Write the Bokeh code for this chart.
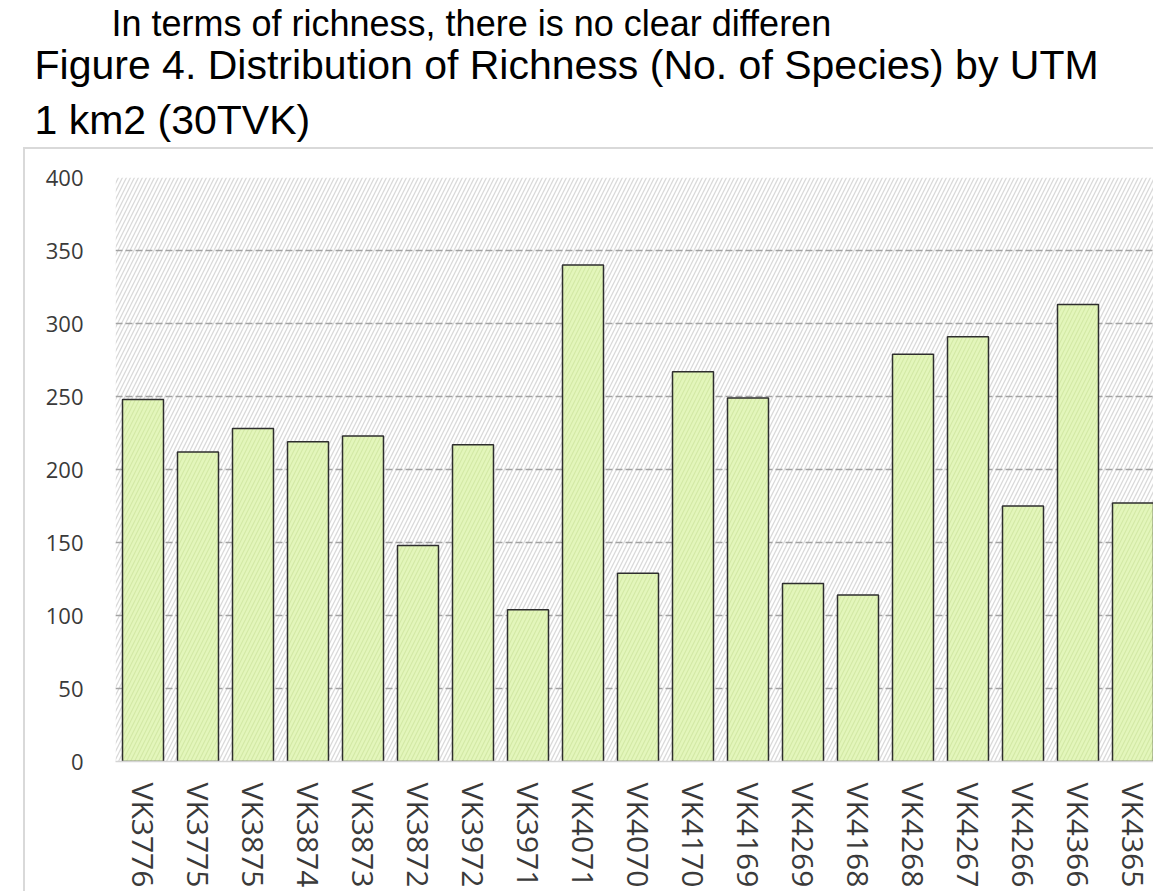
from bokeh.plotting import figure
from bokeh.models import Range1d, FixedTicker, Title
from bokeh.embed import file_html
from bokeh.resources import INLINE

categories = ["VK3776", "VK3775", "VK3875", "VK3874", "VK3873", "VK3872", "VK3972",
              "VK3971", "VK4071", "VK4070", "VK4170", "VK4169", "VK4269", "VK4168",
              "VK4268", "VK4267", "VK4266", "VK4366", "VK4365"]
richness = [248, 212, 228, 219, 223, 148, 217, 104, 340, 129, 267, 249, 122, 114,
            279, 291, 175, 313, 177]
y_ticks = [0, 50, 100, 150, 200, 250, 300, 350, 400]

intro_text = "In terms of richness, there is no clear differen"
caption_line1 = "Figure 4. Distribution of Richness (No. of Species) by UTM"
caption_line2 = "1 km2 (30TVK)"

xs = list(range(len(categories)))
FRAME_LEFT = 115
x_end = -0.5 + (1153 - FRAME_LEFT) / 55.0

p = figure(width=1153, height=891, output_backend="svg", toolbar_location=None,
           title=None, x_range=Range1d(-0.5, x_end), y_range=Range1d(0, 400),
           min_border_left=FRAME_LEFT, min_border_right=0, min_border_top=177,
           min_border_bottom=130, outline_line_color=None,
           background_fill_color="white", border_fill_color=None)

# light grey chart-box border (top and left edges) drawn behind the canvas
p.styles = {
    "background-color": "white",
    "background-image": "linear-gradient(#d9d9d9, #d9d9d9), linear-gradient(#d9d9d9, #d9d9d9)",
    "background-size": "1140px 2px, 2px 760px",
    "background-position": "23px 147px, 23px 147px",
    "background-repeat": "no-repeat",
}

# hatched plot-area background
p.quad(left=[-0.5], right=[x_end], bottom=[0], top=[400], fill_color="white",
       line_color=None, hatch_pattern="/", hatch_color="#d9d9d9", hatch_scale=8,
       hatch_weight=1.3, level="image")

p.vbar(x=xs, top=richness, bottom=0, width=0.745, fill_color="#e3f6bb",
       line_color="#2e2e2e", line_width=1.5, hatch_pattern="/",
       hatch_color="#d3e9a6", hatch_scale=8, hatch_weight=1.2)

p.xgrid.visible = False
p.ygrid.ticker = FixedTicker(ticks=y_ticks)
p.ygrid.grid_line_color = "#a3a3a3"
p.ygrid.grid_line_dash = "7 3"
p.ygrid.grid_line_width = 1.3

ya = p.yaxis[0]
ya.ticker = FixedTicker(ticks=y_ticks)
ya.axis_line_color = None
ya.major_tick_line_color = None
ya.minor_tick_line_color = None
ya.major_tick_out = 0
ya.major_tick_in = 0
ya.major_label_standoff = 32
ya.major_label_text_font = "Open Sans"
ya.major_label_text_font_size = "22px"
ya.major_label_text_color = "#3a3a3a"

xa = p.xaxis[0]
xa.ticker = FixedTicker(ticks=xs)
xa.major_label_overrides = {i: c for i, c in zip(xs, categories)}
xa.axis_line_color = "#d4d4d4"
xa.axis_line_width = 1.5
xa.major_tick_line_color = None
xa.minor_tick_line_color = None
xa.major_tick_out = 0
xa.major_tick_in = 0
xa.major_label_orientation = "vertical"
xa.major_label_standoff = 21
xa.major_label_text_font = "Open Sans"
xa.major_label_text_font_size = "30px"
xa.major_label_text_color = "#3a3a3a"

# blank spacer between the plot area and the caption
p.add_layout(Title(text=" ", align="left", standoff=4, text_font="Liberation Sans",
                   text_font_size="20px", text_color="white"), "above")

p.add_layout(Title(text=caption_line2, align="left", offset=34 - FRAME_LEFT,
                   standoff=12.4, text_font="Liberation Sans", text_font_size="41px",
                   text_font_style="normal", text_color="black"), "above")
p.add_layout(Title(text=caption_line1, align="left", offset=34 - FRAME_LEFT,
                   standoff=4, text_font="Liberation Sans", text_font_size="41px",
                   text_font_style="normal", text_color="black"), "above")
p.add_layout(Title(text=intro_text, align="left", offset=111 - FRAME_LEFT,
                   standoff=-12, text_font="Liberation Sans", text_font_size="36px",
                   text_font_style="normal", text_color="black"), "above")

open("out.html", "w").write(file_html(p, INLINE))
